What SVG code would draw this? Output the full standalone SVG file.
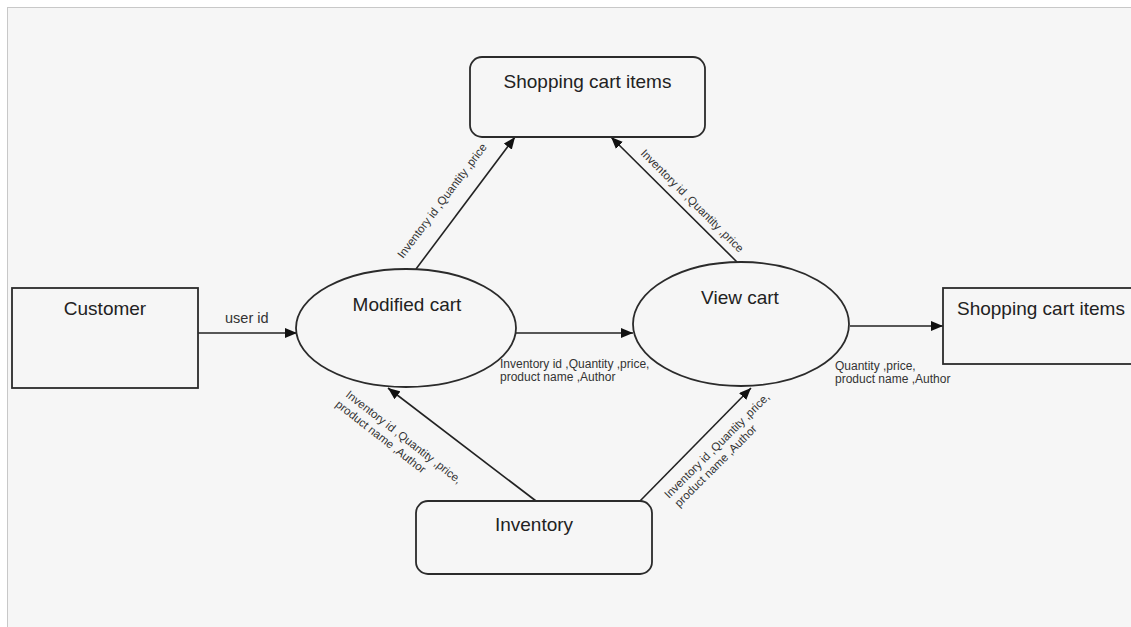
<svg xmlns="http://www.w3.org/2000/svg" width="1131" height="627" viewBox="0 0 1131 627">
<style>
.node{fill:none;stroke:#2b2b2b;stroke-width:1.8}
.title{font-family:"Liberation Sans",Arial,sans-serif;font-size:19px;fill:#222}
.conn{stroke:#222;stroke-width:1.6;fill:none;marker-end:url(#arr)}
.lbl{font-family:"Liberation Sans",Arial,sans-serif;font-size:12px;fill:#333}
.rlbl{font-family:"Liberation Sans",Arial,sans-serif;font-size:11.5px;fill:#333}
</style>
<defs>
<marker id="arr" markerUnits="userSpaceOnUse" markerWidth="12" markerHeight="10" refX="12" refY="5" orient="auto">
<path d="M0,0 L12,5 L0,10 z" fill="#111"/>
</marker>
</defs>
<rect x="0" y="0" width="1131" height="627" fill="#ffffff"/>
<rect x="7.5" y="7.5" width="1130" height="630" fill="#f6f6f6" stroke="#c8c8c8" stroke-width="1"/>

<g id="connectors">
<path class="conn" d="M198,333 L297,333"/>
<path class="conn" d="M416,269 L515,137"/>
<path class="conn" d="M737,262 L611,137"/>
<path class="conn" d="M516,333 L633,333"/>
<path class="conn" d="M850,326 L943,326"/>
<path class="conn" d="M536,501 L388,388"/>
<path class="conn" d="M640,501 L751,388"/>
<text class="lbl" x="225" y="323" style="font-size:14.5px">user id</text>
<text class="lbl" x="500" y="368">Inventory id ,Quantity ,price,</text>
<text class="lbl" x="500" y="381">product name ,Author</text>
<text class="lbl" x="835" y="370">Quantity ,price,</text>
<text class="lbl" x="835" y="383">product name ,Author</text>
<text class="rlbl" transform="translate(403,259) rotate(-53)">Inventory id ,Quantity ,price</text>
<text class="rlbl" transform="translate(640,154) rotate(45)">Inventory id ,Quantity ,price</text>
<g transform="translate(345,396) rotate(38)">
<text class="rlbl" x="0" y="0">Inventory id ,Quantity ,price,</text>
<text class="rlbl" x="-2" y="14">product name ,Author</text>
</g>
<g transform="translate(669,499) rotate(-45)">
<text class="rlbl" x="0" y="0">Inventory id ,Quantity ,price,</text>
<text class="rlbl" x="1" y="13.5">product name ,Author</text>
</g>
</g>

<g id="shopping-cart-items-top">
<rect class="node" x="470" y="57" width="235" height="80" rx="12"/>
<text class="title" x="587.5" y="88" text-anchor="middle">Shopping cart items</text>
</g>
<g id="customer">
<rect class="node" x="12" y="288" width="186" height="100"/>
<text class="title" x="105" y="315" text-anchor="middle">Customer</text>
</g>
<g id="modified-cart">
<ellipse class="node" cx="406" cy="328" rx="110" ry="59"/>
<text class="title" x="407" y="311" text-anchor="middle">Modified cart</text>
</g>
<g id="view-cart">
<ellipse class="node" cx="741" cy="324" rx="108" ry="62"/>
<text class="title" x="740" y="304" text-anchor="middle">View cart</text>
</g>
<g id="shopping-cart-items-right">
<rect class="node" x="943" y="288" width="200" height="76"/>
<text class="title" x="957" y="315">Shopping cart items</text>
</g>
<g id="inventory">
<rect class="node" x="416" y="501" width="236" height="73" rx="12"/>
<text class="title" x="534" y="531" text-anchor="middle">Inventory</text>
</g>
</svg>
